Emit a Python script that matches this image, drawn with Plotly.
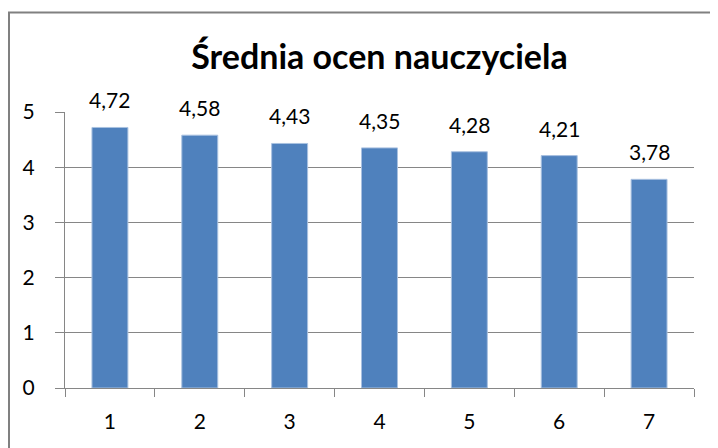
import plotly.graph_objects as go

categories = ["1", "2", "3", "4", "5", "6", "7"]
values = [4.72, 4.58, 4.43, 4.35, 4.28, 4.21, 3.78]
y_ticks = [0, 1, 2, 3, 4, 5]
title_text = "Średnia ocen nauczyciela"

FONT = "Lato, Carlito, Calibri, sans-serif"
GRAY = "#868686"

# page has an 8px body margin, so figure coords = page coords - 8
W, H = 710, 440
L, R, T, B = 57, 686, 104, 380

fig = go.Figure()
fig.add_trace(go.Bar(
    x=categories, y=values,
    marker=dict(color="#4F81BD", line=dict(color="#A9C1E0", width=1)),
    width=0.4,
    hoverinfo="skip",
))

for i, v in enumerate(values):
    fig.add_annotation(
        x=i, y=v, text=f"{v:.2f}".replace(".", ","),
        showarrow=False, yanchor="bottom", yshift=13,
        font=dict(family=FONT, size=21, color="#000000"),
    )

fig.update_layout(
    width=W, height=H,
    margin=dict(l=L, r=W - R, t=T, b=H - B),
    paper_bgcolor="white", plot_bgcolor="white",
    showlegend=False,
    title=dict(text="<b>" + title_text + "</b>", x=0.5, xref="paper", xanchor="center",
               y=1 - 49 / H, yref="container", yanchor="middle",
               font=dict(family=FONT, size=34, color="#000000")),
    font=dict(family=FONT, size=21, color="#000000"),
    bargap=0.6,
)
fig.update_xaxes(
    type="category", range=[-0.5, 6.5],
    showline=True, linecolor=GRAY, linewidth=1,
    ticks="outside", ticklen=8, tickcolor=GRAY, tickwidth=1,
    tickson="boundaries", showgrid=False,
    tickfont=dict(family=FONT, size=21, color="#000000"),
    ticklabelstandoff=15,
)
fig.update_yaxes(
    range=[0, 5], tickvals=y_ticks,
    showline=True, linecolor=GRAY, linewidth=1,
    ticks="outside", ticklen=9, tickcolor=GRAY, tickwidth=1,
    showgrid=True, gridcolor=GRAY, gridwidth=1, zeroline=False,
    tickfont=dict(family=FONT, size=21, color="#000000"),
    ticklabelstandoff=16,
)
# outer chart border
pw, ph = R - L, B - T
fig.add_shape(type="rect", xref="paper", yref="paper",
              x0=(1 - L) / pw, x1=(W + 20 - L) / pw,
              y0=-(H + 20 - B) / ph, y1=(B - 4.5) / ph,
              line=dict(color="#808080", width=2), fillcolor="rgba(0,0,0,0)", layer="below")

fig.write_html("out.html")
